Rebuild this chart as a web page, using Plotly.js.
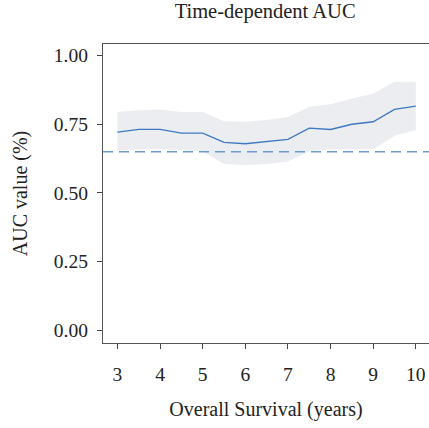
<!DOCTYPE html>
<html>
<head>
<meta charset="utf-8">
<script src="https://cdn.plot.ly/plotly-3.0.1.min.js"></script>
<style>html,body{margin:0;padding:0;overflow:hidden;background:#fff}</style>
</head>
<body>
<div id="chart" style="width:429px;height:428px"></div>
<script>
var years = [3, 3.5, 4, 4.5, 5, 5.5, 6, 6.5, 7, 7.5, 8, 8.5, 9, 9.5, 10];
var auc   = [0.721, 0.731, 0.731, 0.718, 0.718, 0.684, 0.679, 0.686, 0.695, 0.736, 0.731, 0.750, 0.759, 0.804, 0.816];
var upper = [0.795, 0.801, 0.804, 0.795, 0.795, 0.761, 0.759, 0.765, 0.776, 0.814, 0.823, 0.844, 0.861, 0.905, 0.905];
var lower = [0.656, 0.658, 0.660, 0.655, 0.651, 0.605, 0.601, 0.605, 0.614, 0.652, 0.659, 0.659, 0.659, 0.708, 0.729];
var refAUC = 0.65;
var xTicks = [3, 4, 5, 6, 7, 8, 9, 10];
var yTicks = [0, 0.25, 0.5, 0.75, 1.0];
var yTickText = ["0.00", "0.25", "0.50", "0.75", "1.00"];

var font = "Liberation Serif, DejaVu Serif, serif";
var traces = [
  {x: years, y: lower, type: "scatter", mode: "lines", line: {width: 0, color: "rgba(0,0,0,0)"}, hoverinfo: "skip", showlegend: false},
  {x: years, y: upper, type: "scatter", mode: "lines", fill: "tonexty", fillcolor: "#ebedf0", line: {width: 0, color: "rgba(0,0,0,0)"}, showlegend: false},
  {x: years, y: auc, type: "scatter", mode: "lines", line: {color: "#4077c2", width: 1.3}, showlegend: false}
];
var layout = {
  width: 429, height: 428,
  margin: {l: 103, r: 0, t: 44, b: 85},
  paper_bgcolor: "#fff", plot_bgcolor: "#fff",
  font: {family: font, size: 20, color: "#222"},
  title: {text: "Time-dependent AUC", font: {family: font, size: 20.5, color: "#222"}, x: 0.618, xanchor: "center", y: 0.974, yanchor: "middle"},
  xaxis: {
    range: [2.66, 10.31], tickvals: xTicks, ticks: "outside", ticklen: 5, tickcolor: "#444", tickwidth: 1,
    showgrid: false, zeroline: false, showline: true, linecolor: "#555", linewidth: 1.2, mirror: true,
    ticklabelstandoff: 8,
    tickfont: {family: font, size: 19.5, color: "#222"},
    title: {text: "Overall Survival (years)", font: {family: font, size: 20, color: "#222"}, standoff: 18}
  },
  yaxis: {
    range: [-0.046, 1.042], tickvals: yTicks, ticktext: yTickText, ticks: "outside", ticklen: 5, tickcolor: "#444", tickwidth: 1,
    showgrid: false, zeroline: false, showline: true, linecolor: "#555", linewidth: 1.2, mirror: true,
    ticklabelstandoff: 5,
    tickfont: {family: font, size: 19.5, color: "#222"},
    title: {text: "AUC value (%)", font: {family: font, size: 20, color: "#222"}, standoff: 20}
  },
  shapes: [
    {type: "line", xref: "paper", x0: 0, x1: 1, yref: "y", y0: refAUC, y1: refAUC, line: {color: "#6c9bd6", width: 1.3, dash: "10px,6px"}}
  ]
};
Plotly.newPlot("chart", traces, layout, {displayModeBar: false, staticPlot: true});
</script>
</body>
</html>
